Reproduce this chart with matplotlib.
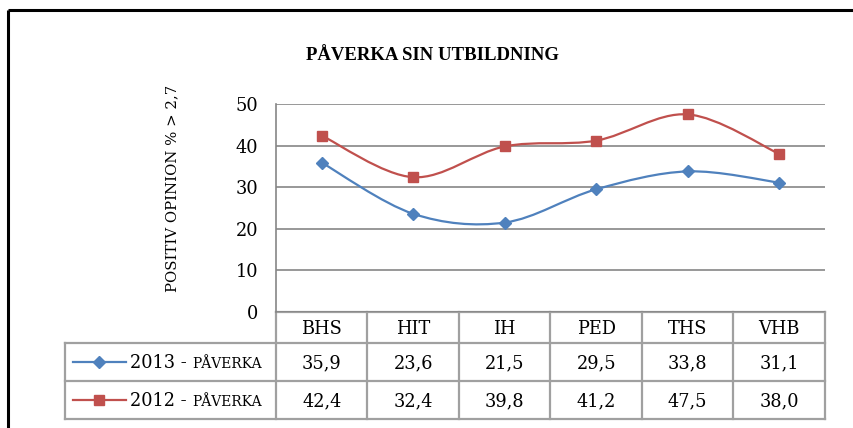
import matplotlib.pyplot as plt
from matplotlib.path import Path
from matplotlib.patches import PathPatch
from matplotlib.lines import Line2D

# Data
categories = ["BHS", "HIT", "IH", "PED", "THS", "VHB"]
vals_2013 = [35.9, 23.6, 21.5, 29.5, 33.8, 31.1]
vals_2012 = [42.4, 32.4, 39.8, 41.2, 47.5, 38.0]
labels_2013 = ["35,9", "23,6", "21,5", "29,5", "33,8", "31,1"]
labels_2012 = ["42,4", "32,4", "39,8", "41,2", "47,5", "38,0"]
series_names = ["2013 - ", "2012 - "]
series_suffix = "PÅVERKA"
yticks = [0, 10, 20, 30, 40, 50]

BLUE = "#4F81BD"
RED = "#C0504D"
GRID = "#868686"
TBL = "#A0A0A0"
FONT = "DejaVu Serif"
FS = 12.8

W, H = 854, 428
fig = plt.figure(figsize=(W / 100, H / 100), dpi=100)

# pixel-space overlay for border, title and table
bg = fig.add_axes([0, 0, 1, 1])
bg.set_xlim(0, W)
bg.set_ylim(H, 0)
bg.axis("off")

# outer chart border (top + left)
bg.plot([8, W], [10, 10], color="black", lw=2.2, solid_capstyle="butt")
bg.plot([8, 8], [10, H], color="black", lw=2.2, solid_capstyle="butt")

bg.text(433, 55, "PÅVERKA SIN UTBILDNING", family="Liberation Serif", fontweight="bold",
        fontsize=13.5, ha="center", va="center")

# y axis title (sits a bit above the axes centre, as in the original)
bg.text(172, 188, "POSITIV OPINION % > 2,7", family=FONT, fontsize=10.7,
        rotation=90, ha="center", va="center")

# plot area in pixels
px0, px1, py0, py1 = 276, 825, 104, 312
ax = fig.add_axes([px0 / W, 1 - py1 / H, (px1 - px0) / W, (py1 - py0) / H])
ax.set_xlim(0, len(categories))
ax.set_ylim(0, 50)
for s in ["top", "right", "bottom"]:
    ax.spines[s].set_visible(False)
ax.spines["left"].set_color(GRID)
ax.spines["left"].set_linewidth(1.2)
ax.set_xticks([])
ax.set_yticks(yticks)
ax.set_yticklabels([str(t) for t in yticks], family=FONT, fontsize=FS)
ax.tick_params(axis="y", length=0, pad=13)
for t in yticks:
    ax.axhline(t, color=GRID, lw=1.2, zorder=1)
ax.patch.set_alpha(0)


def smooth_path(xs, ys):
    # Excel-style smoothed line: cubic Bezier through the points
    pts = list(zip(xs, ys))
    n = len(pts)
    verts = [pts[0]]
    codes = [Path.MOVETO]
    for i in range(n - 1):
        p0 = pts[i - 1] if i > 0 else pts[i]
        p1 = pts[i]
        p2 = pts[i + 1]
        p3 = pts[i + 2] if i + 2 < n else pts[i + 1]
        c1 = (p1[0] + (p2[0] - p0[0]) / 6, p1[1] + (p2[1] - p0[1]) / 6)
        c2 = (p2[0] - (p3[0] - p1[0]) / 6, p2[1] - (p3[1] - p1[1]) / 6)
        verts += [c1, c2, p2]
        codes += [Path.CURVE4] * 3
    return Path(verts, codes)


xs = [i + 0.5 for i in range(len(categories))]
for vals, color, marker, ms in [(vals_2013, BLUE, "D", 6.5), (vals_2012, RED, "s", 7.5)]:
    ax.add_patch(PathPatch(smooth_path(xs, vals), fill=False, edgecolor=color, lw=1.6, zorder=3))
    ax.plot(xs, vals, linestyle="none", marker=marker, markersize=ms, color=color, zorder=4)

# data table below the chart
cw = (px1 - px0) / len(categories)
r0, r1, r2, r3 = 312, 343, 381, 419
tx0 = 65
lk = dict(color=TBL, lw=1.6, solid_capstyle="projecting")
bg.plot([px0, px1], [r0, r0], **lk)
for i in range(len(categories) + 1):
    bg.plot([px0 + i * cw] * 2, [r0, r3], **lk)
for y in [r1, r2, r3]:
    bg.plot([tx0, px1], [y, y], **lk)
bg.plot([tx0, tx0], [r1, r3], **lk)

for i, c in enumerate(categories):
    cx = px0 + (i + 0.5) * cw
    bg.text(cx, (r0 + r1) / 2 + 1, c, family=FONT, fontsize=FS, ha="center", va="center")
    bg.text(cx, (r1 + r2) / 2 + 1, labels_2013[i], family=FONT, fontsize=FS, ha="center", va="center")
    bg.text(cx, (r2 + r3) / 2 + 1, labels_2012[i], family=FONT, fontsize=FS, ha="center", va="center")

renderer = fig.canvas.get_renderer()
for (ya, yb), name, color, marker, ms in [((r1, r2), series_names[0], BLUE, "D", 6),
                                          ((r2, r3), series_names[1], RED, "s", 7)]:
    yc = (ya + yb) / 2
    bg.add_line(Line2D([73, 126], [yc, yc], color=color, lw=1.6))
    bg.plot([99], [yc], marker=marker, markersize=ms, color=color)
    t1 = bg.text(130, yc + 6.5, name, family=FONT, fontsize=FS, ha="left", va="baseline")
    x_end = bg.transData.inverted().transform(t1.get_window_extent(renderer))[1][0]
    bg.text(x_end, yc + 6.5, series_suffix, family=FONT, fontsize=10,
            ha="left", va="baseline")

fig.savefig("out.png", dpi=100)
